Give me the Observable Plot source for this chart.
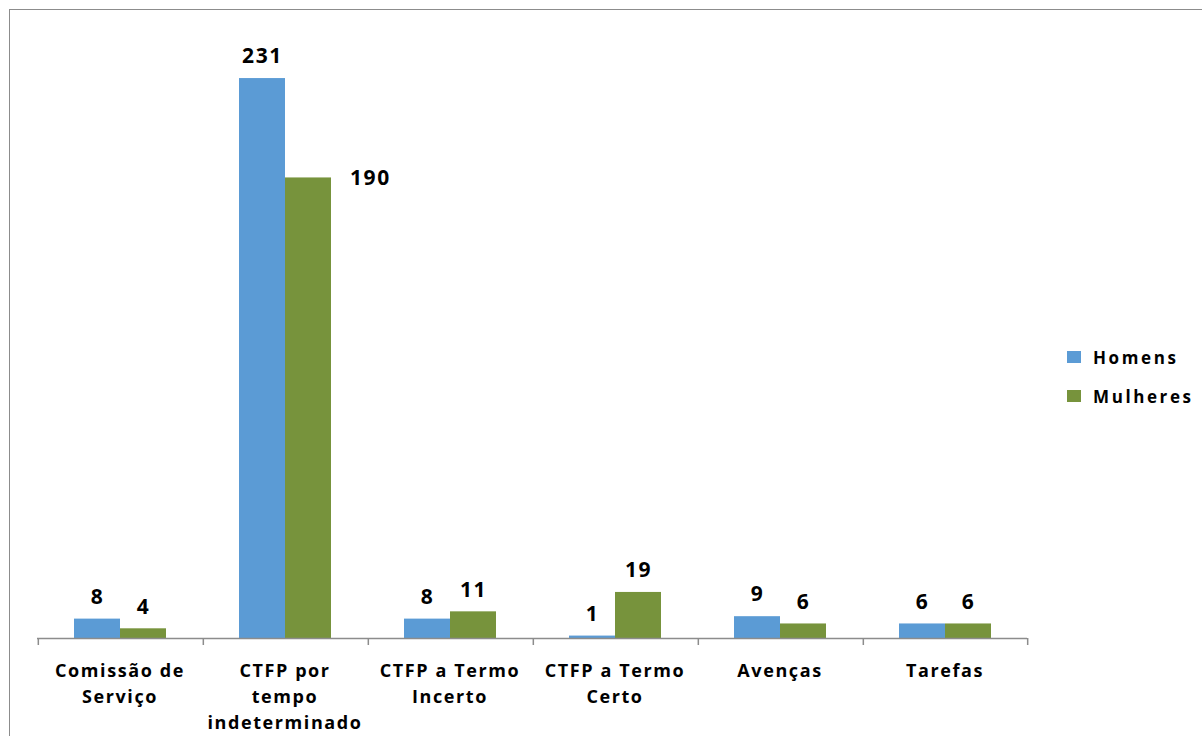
<!DOCTYPE html>
<html>
<head>
<meta charset="utf-8">
<script src="https://cdn.jsdelivr.net/npm/d3@7"></script>
<script src="https://cdn.jsdelivr.net/npm/@observablehq/plot@0.6"></script>
<style>
  html, body { margin: 0; padding: 0; background: #fff; width: 1202px; height: 736px; overflow: hidden; }
  #wrap { position: relative; width: 1202px; height: 736px; }
  #border { position: absolute; left: 9px; top: 9px; width: 1400px; height: 900px; border: 1.5px solid #8c8c8c; box-sizing: border-box; }
  #chart { position: absolute; left: 0; top: 0; }
  #legend { position: absolute; left: 1067px; top: 346px; font-family: "Open Sans", sans-serif; font-weight: 700; font-size: 17px; letter-spacing: 2.6px; color: #000; }
  .row { display: flex; align-items: center; height: 22px; margin-bottom: 17px; }
  .sw { width: 14px; height: 12px; margin-right: 12px; }
</style>
</head>
<body>
<div id="wrap">
  <div id="border"></div>
  <div id="chart"></div>
  <div id="legend"></div>
</div>
<script>
const categories = ["Comissão de Serviço", "CTFP por tempo indeterminado", "CTFP a Termo Incerto", "CTFP a Termo Certo", "Avenças", "Tarefas"];
const categoryLabels = ["Comissão de\nServiço", "CTFP por\ntempo\nindeterminado", "CTFP a Termo\nIncerto", "CTFP a Termo\nCerto", "Avenças", "Tarefas"];
const series = ["Homens", "Mulheres"];
const homens = [8, 231, 8, 1, 9, 6];
const mulheres = [4, 190, 11, 19, 6, 6];
const colors = ["#5B9BD5", "#77933C"];
const yMax = 250;

const data = [];
categories.forEach((c, i) => {
  data.push({cat: c, series: series[0], value: homens[i]});
  data.push({cat: c, series: series[1], value: mulheres[i]});
});
const labels = categories.map((c, i) => ({cat: c, label: categoryLabels[i]}));

const W = 1202, H = 736, ML = 36, MR = 174, MT = 32, MB = 98;
const padOuter = 0.76;
const facetW = (W - ML - MR) / categories.length;
const step = facetW / (series.length + 2 * padOuter);
const edge = step * (0.5 + padOuter);

// label that Excel placed beside the bar
const isSide = d => d.cat === categories[1] && d.series === series[1];

const font = "'Open Sans', sans-serif";
const chart = Plot.plot({
  width: W, height: H,
  marginLeft: ML, marginRight: MR, marginTop: MT, marginBottom: MB,
  style: {fontFamily: font, background: "transparent", overflow: "visible"},
  fx: {domain: categories, padding: 0, axis: null},
  x: {domain: series, paddingInner: 0, paddingOuter: padOuter, axis: null},
  y: {domain: [0, yMax], axis: null},
  color: {domain: series, range: colors},
  marks: [
    Plot.barY(data, {fx: "cat", x: "series", y: "value", fill: "series"}),
    Plot.ruleY([0], {stroke: "#8c8c8c", strokeWidth: 1.5}),
    Plot.ruleX(categories, {fx: d => d, x: () => series[0], y1: () => 0, insetBottom: -7, dx: -edge, stroke: "#8c8c8c", strokeWidth: 1.5}),
    Plot.ruleX([categories[categories.length - 1]], {fx: d => d, x: () => series[1], y1: () => 0, insetBottom: -7, dx: edge, stroke: "#8c8c8c", strokeWidth: 1.5}),
    Plot.text(data.filter(d => !isSide(d)), {fx: "cat", x: "series", y: "value", text: d => String(d.value), dy: -22, fontSize: 21, fontWeight: 700, fill: "#000", style: "letter-spacing:1.5px"}),
    Plot.text(data.filter(isSide), {fx: "cat", x: "series", y: "value", text: d => String(d.value), dx: 18 + step / 2, dy: 0, textAnchor: "start", fontSize: 21, fontWeight: 700, fill: "#000"}),
    Plot.text(labels, {fx: "cat", text: "label", frameAnchor: "bottom", lineAnchor: "top", dy: 20, fontSize: 18, fontWeight: 700, lineHeight: 1.45, fill: "#000"})
  ]
});
chart.querySelectorAll("text").forEach(t => t.style.letterSpacing = "1.6px");
document.getElementById("chart").appendChild(chart);

const legend = document.getElementById("legend");
series.forEach((s, i) => {
  const row = document.createElement("div");
  row.className = "row";
  const sw = document.createElement("div");
  sw.className = "sw";
  sw.style.background = colors[i];
  const lab = document.createElement("span");
  lab.textContent = s;
  row.appendChild(sw);
  row.appendChild(lab);
  legend.appendChild(row);
});
</script>
</body>
</html>
